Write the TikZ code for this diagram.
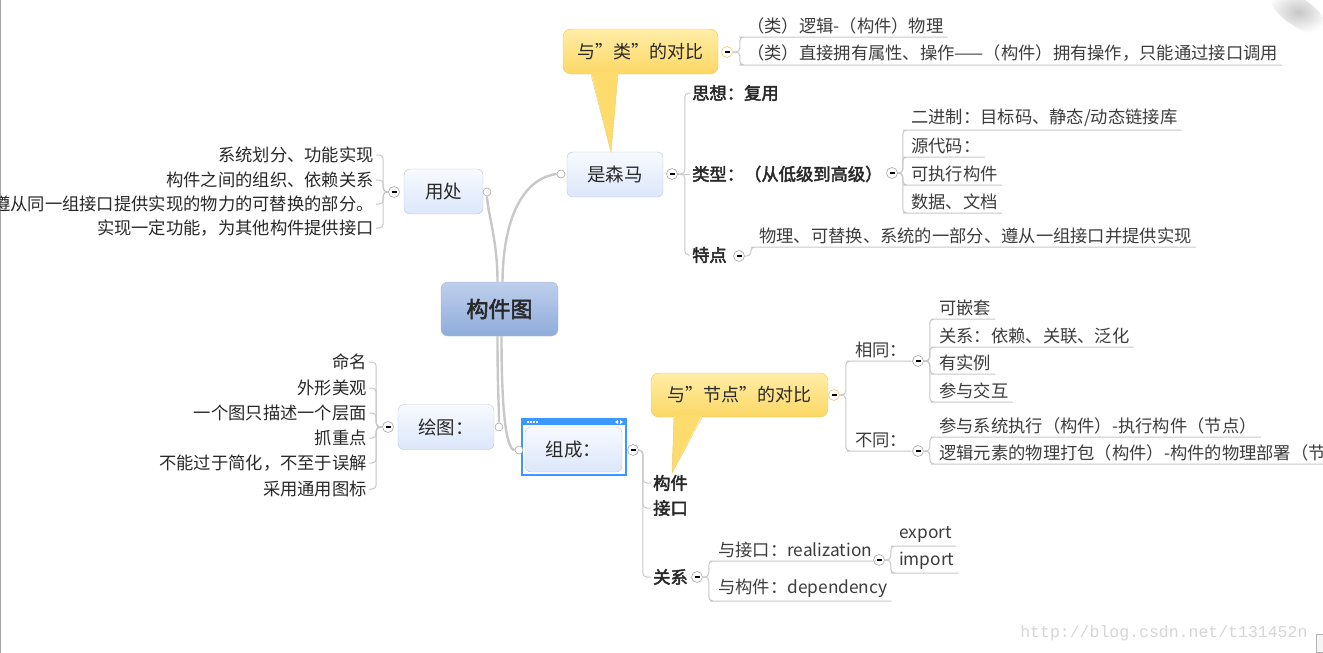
\documentclass[tikz,border=0pt]{standalone}
\usepackage{fontspec}
\setmainfont{Noto Sans CJK SC}[AutoFakeBold=2.5]
\newfontfamily\urlfont{Liberation Mono}
\newcommand\leaffont{\fontsize{17.3}{20}\selectfont}
\definecolor{linegray}{RGB}{200,200,200}
\definecolor{foldline}{RGB}{165,165,165}
\definecolor{textdark}{RGB}{40,40,40}
\definecolor{textleaf}{RGB}{60,60,60}
\definecolor{rootline}{RGB}{165,182,210}
\definecolor{roottop}{RGB}{190,207,236}
\definecolor{rootbot}{RGB}{143,172,219}
\definecolor{topicline}{RGB}{190,198,212}
\definecolor{topictop}{RGB}{247,250,255}
\definecolor{topicbot}{RGB}{220,231,250}
\definecolor{callline}{RGB}{236,200,100}
\definecolor{calltop}{RGB}{255,238,168}
\definecolor{callbot}{RGB}{252,215,100}
\definecolor{calltail}{RGB}{253,219,108}
\definecolor{selblue}{RGB}{58,152,255}

\begin{document}
\begin{tikzpicture}[x=1pt, y=-1pt,
  rootbox/.style={draw=rootline, rounded corners=7pt, top color=roottop, bottom color=rootbot,
    minimum width=117pt, minimum height=54pt, font=\fontsize{22}{26}\selectfont\bfseries, text=textdark},
  topic/.style={draw=topicline, rounded corners=6pt, top color=topictop, bottom color=topicbot,
    minimum height=45pt, font=\fontsize{18.5}{22}\selectfont, text=textdark},
  callout/.style={draw=callline, rounded corners=8pt, top color=calltop, bottom color=callbot,
    minimum height=45pt, font=\fontsize{18}{22}\selectfont, text=textdark},
  fold/.style={circle, draw=foldline, fill=white, minimum size=11pt, inner sep=0pt, line width=0.6pt},
  callfold/.style={fold, draw=callline},
  joint/.style={circle, draw=foldline, fill=white, minimum size=8pt, inner sep=0pt, line width=0.6pt},
  trunk/.style={draw=linegray, line width=2.4pt},
  twig/.style={draw=linegray, line width=1pt, rounded corners=4pt},
  leaf/.style={anchor=south west, inner xsep=4pt, inner ysep=3pt, font=\leaffont, text=textleaf},
  lleaf/.style={anchor=east, inner xsep=2pt, inner ysep=2pt, font=\leaffont, text=textdark},
  keynote/.style={anchor=west, inner sep=2pt, font=\leaffont\bfseries, text=textdark}]

\clip (0,0) rectangle (1323,653);
\fill[white] (0,0) rectangle (1323,653);
\draw[gray!70, line width=1.5pt] (0.5,0) -- (0.5,653);
\shade[inner color=black!22, outer color=white, rotate around={-35:(1298,12)}] (1298,12) ellipse (34 and 14);

% root and main topics
\node[rootbox] (root) at (499.5,309) {构件图};
\node[topic, minimum width=79pt] (n1) at (443.5,191.5) {用处};
\node[topic, minimum width=96pt] (n2) at (615,174.5) {是森马};
\node[topic, minimum width=96pt] (n3) at (446,427) {绘图：};
\node[topic, minimum width=97pt] (n4) at (573.5,449.5) {组成：};

% selection frame
\draw[selblue, line width=2pt] ([xshift=-3pt,yshift=8pt]n4.north west) rectangle ([xshift=4pt,yshift=-3pt]n4.south east);
\fill[selblue] ([xshift=-4pt,yshift=9pt]n4.north west) rectangle ([xshift=5pt,yshift=2pt]n4.north east);
\foreach \i in {0,...,3}
  \fill[white] ({527+3*\i},421) rectangle ++(1.5,1.5);
\fill[white] (615,422) -- (618,420) -- (618,424) -- cycle;
\fill[white] (620,420) -- (623,422) -- (620,424) -- cycle;

\node[joint] (j1) at (487,192) {};
\node[joint] (j2) at (561,174) {};
\node[joint] (j3) at (499,427) {};
\node[joint] (j4) at (519,450) {};

\draw[trunk] ([xshift=-2pt]root.north) .. controls (497.5,240) and (488,215) .. (j1.south);
\draw[trunk] ([xshift=3pt]root.north) .. controls (503,215) and (525,178) .. (j2.west);
\draw[trunk] ([xshift=-2pt]root.south) .. controls (497.5,390) and (499,405) .. (j3.north);
\draw[trunk] ([xshift=2pt]root.south) .. controls (501.5,410) and (506,450) .. (j4.west);

% callouts
\node[callout, minimum width=155pt] (cl1) at (640.5,51.5) {与"类"的对比};
\fill[calltail] (591,72) -- (611,152) -- (618,72) -- cycle;
\draw[callline] (591,74.5) -- (611,152) -- (618,74.5);
\node[callout, minimum width=177pt, minimum height=44pt] (cl2) at (739.5,395) {与"节点"的对比};
\fill[calltail] (674,415) -- (672,473) -- (702,415) -- cycle;
\draw[callline] (674,417.5) -- (672,473) -- (702,417.5);

% folds
\node[fold] (f1) at (394,192) {\rule{5pt}{1.2pt}};
\node[fold] (f2) at (672,174) {\rule{5pt}{1.2pt}};
\node[fold] (f3) at (892,173) {\rule{5pt}{1.2pt}};
\node[fold] (f4) at (739,256) {\rule{5pt}{1.2pt}};
\node[fold] (f5) at (633,450) {\rule{5pt}{1.2pt}};
\node[fold] (f6) at (697,577) {\rule{5pt}{1.2pt}};
\node[fold] (f7) at (879,560) {\rule{5pt}{1.2pt}};
\node[fold] (f8) at (388,427) {\rule{5pt}{1.2pt}};
\node[callfold] (cf1) at (727,52) {\rule{5pt}{1.2pt}};
\node[callfold] (cf2) at (834,395) {\rule{5pt}{1.2pt}};
\node[fold] (g1) at (918,361) {\rule{5pt}{1.2pt}};
\node[fold] (g2) at (918,451) {\rule{5pt}{1.2pt}};

% 用处
\node[lleaf] (c1) at (376,155) {系统划分、功能实现};
\node[lleaf] (c2) at (376,180) {构件之间的组织、依赖关系};
\node[lleaf] (c3) at (376,204) {遵从同一组接口提供实现的物力的可替换的部分。};
\node[lleaf] (c4) at (376,228) {实现一定功能，为其他构件提供接口};
\draw[twig] (f1.west) -- ++(-5,0) |- (c1.east);
\draw[twig] (f1.west) -- ++(-5,0) |- (c2.east);
\draw[twig] (f1.west) -- ++(-5,0) |- (c3.east);
\draw[twig] (f1.west) -- ++(-5,0) |- (c4.east);

% 绘图
\node[lleaf] (d1) at (369,362) {命名};
\node[lleaf] (d2) at (369,388) {外形美观};
\node[lleaf] (d3) at (369,413) {一个图只描述一个层面};
\node[lleaf] (d4) at (369,438) {抓重点};
\node[lleaf] (d5) at (369,463) {不能过于简化，不至于误解};
\node[lleaf] (d6) at (369,489) {采用通用图标};
\draw[twig] (f8.west) -- ++(-6,0) |- (d1.east);
\draw[twig] (f8.west) -- ++(-6,0) |- (d2.east);
\draw[twig] (f8.west) -- ++(-6,0) |- (d3.east);
\draw[twig] (f8.west) -- ++(-6,0) |- (d4.east);
\draw[twig] (f8.west) -- ++(-6,0) |- (d5.east);
\draw[twig] (f8.west) -- ++(-6,0) |- (d6.east);

% 与"类"的对比
\node[leaf] (a1) at (743,37) {（类）逻辑-（构件）物理};
\node[leaf] (a2) at (743,65) {（类）直接拥有属性、操作——（构件）拥有操作，只能通过接口调用};
\draw[twig] (cf1.east) -- ++(7,0) |- (a1.south west) -- (a1.south east);
\draw[twig] (cf1.east) -- ++(7,0) |- (a2.south west) -- (a2.south east);

% 是森马
\node[keynote] (k1) at (690,93) {思想：复用};
\node[keynote] (k2) at (690,174) {类型：（从低级到高级）};
\node[keynote] (k3) at (690,255) {特点};
\draw[twig] (f2.east) -- ++(7,0) |- (k1.west);
\draw[twig] (f2.east) -- (k2.west);
\draw[twig] (f2.east) -- ++(7,0) |- (k3.west);

\node[leaf] (t1) at (907,130) {二进制：目标码、静态/动态链接库};
\node[leaf] (t2) at (907,157) {源代码：};
\node[leaf] (t3) at (907,185) {可执行构件};
\node[leaf] (t4) at (907,213) {数据、文档};
\draw[twig] (f3.east) -- ++(5,0) |- (t1.south west) -- (t1.south east);
\draw[twig] (f3.east) -- ++(5,0) |- (t2.south west) -- (t2.south east);
\draw[twig] (f3.east) -- ++(5,0) |- (t3.south west) -- (t3.south east);
\draw[twig] (f3.east) -- ++(5,0) |- (t4.south west) -- (t4.south east);

\node[leaf] (p1) at (755,247) {物理、可替换、系统的一部分、遵从一组接口并提供实现};
\draw[twig] (f4.east) -- ++(6,0) |- (p1.south west) -- (p1.south east);

% 与"节点"的对比
\node[leaf] (s1) at (851,361) {相同：};
\node[leaf] (s2) at (851,451) {不同：};
\draw[twig] (cf2.east) -- ++(6,0) |- (s1.south west) -- (s1.south east);
\draw[twig] (cf2.east) -- ++(6,0) |- (s2.south west) -- (s2.south east);

\node[leaf] (u1) at (935,319) {可嵌套};
\node[leaf] (u2) at (935,347) {关系：依赖、关联、泛化};
\node[leaf] (u3) at (935,374) {有实例};
\node[leaf] (u4) at (935,402) {参与交互};
\draw[twig] (g1.east) -- ++(6,0) |- (u1.south west) -- (u1.south east);
\draw[twig] (g1.east) -- ++(6,0) |- (u2.south west) -- (u2.south east);
\draw[twig] (g1.east) -- ++(6,0) |- (u3.south west) -- (u3.south east);
\draw[twig] (g1.east) -- ++(6,0) |- (u4.south west) -- (u4.south east);

\node[leaf] (v1) at (935,437) {参与系统执行（构件）-执行构件（节点）};
\node[leaf] (v2) at (935,464) {逻辑元素的物理打包（构件）-构件的物理部署（节点）};
\draw[twig] (g2.east) -- ++(6,0) |- (v1.south west) -- (v1.south east);
\draw[twig] (g2.east) -- ++(6,0) |- (v2.south west) -- (v2.south east);

% 组成
\node[keynote] (m1) at (651,483) {构件};
\node[keynote] (m2) at (651,508) {接口};
\node[keynote] (m3) at (651,577) {关系};
\draw[twig] (f5.east) -- ++(4,0) |- (m1.west);
\draw[twig] (f5.east) -- ++(4,0) |- (m2.west);
\draw[twig] (f5.east) -- ++(4,0) |- (m3.west);

\node[leaf] (r1) at (714,561) {与接口：realization};
\node[leaf] (r2) at (714,601) {与构件：dependency};
\draw[twig] (f6.east) -- ++(6,0) |- (r1.south west) -- (r1.south east);
\draw[twig] (f6.east) -- ++(6,0) |- (r2.south west) -- (r2.south east);

\node[leaf] (e1) at (895,546) {export};
\node[leaf] (e2) at (895,573) {import};
\draw[twig] (f7.east) -- ++(6,0) |- (e1.south west) -- (e1.south east);
\draw[twig] (f7.east) -- ++(6,0) |- (e2.south west) -- (e2.south east);

% watermark
\node[anchor=east, font=\urlfont\fontsize{16.5}{18}\selectfont, text=gray!32] (wm) at (1311,633) {http://blog.csdn.net/t131452n};
\draw[gray!60, fill=gray!8] (1316,634) rectangle (1326,652);
\end{tikzpicture}
\end{document}
